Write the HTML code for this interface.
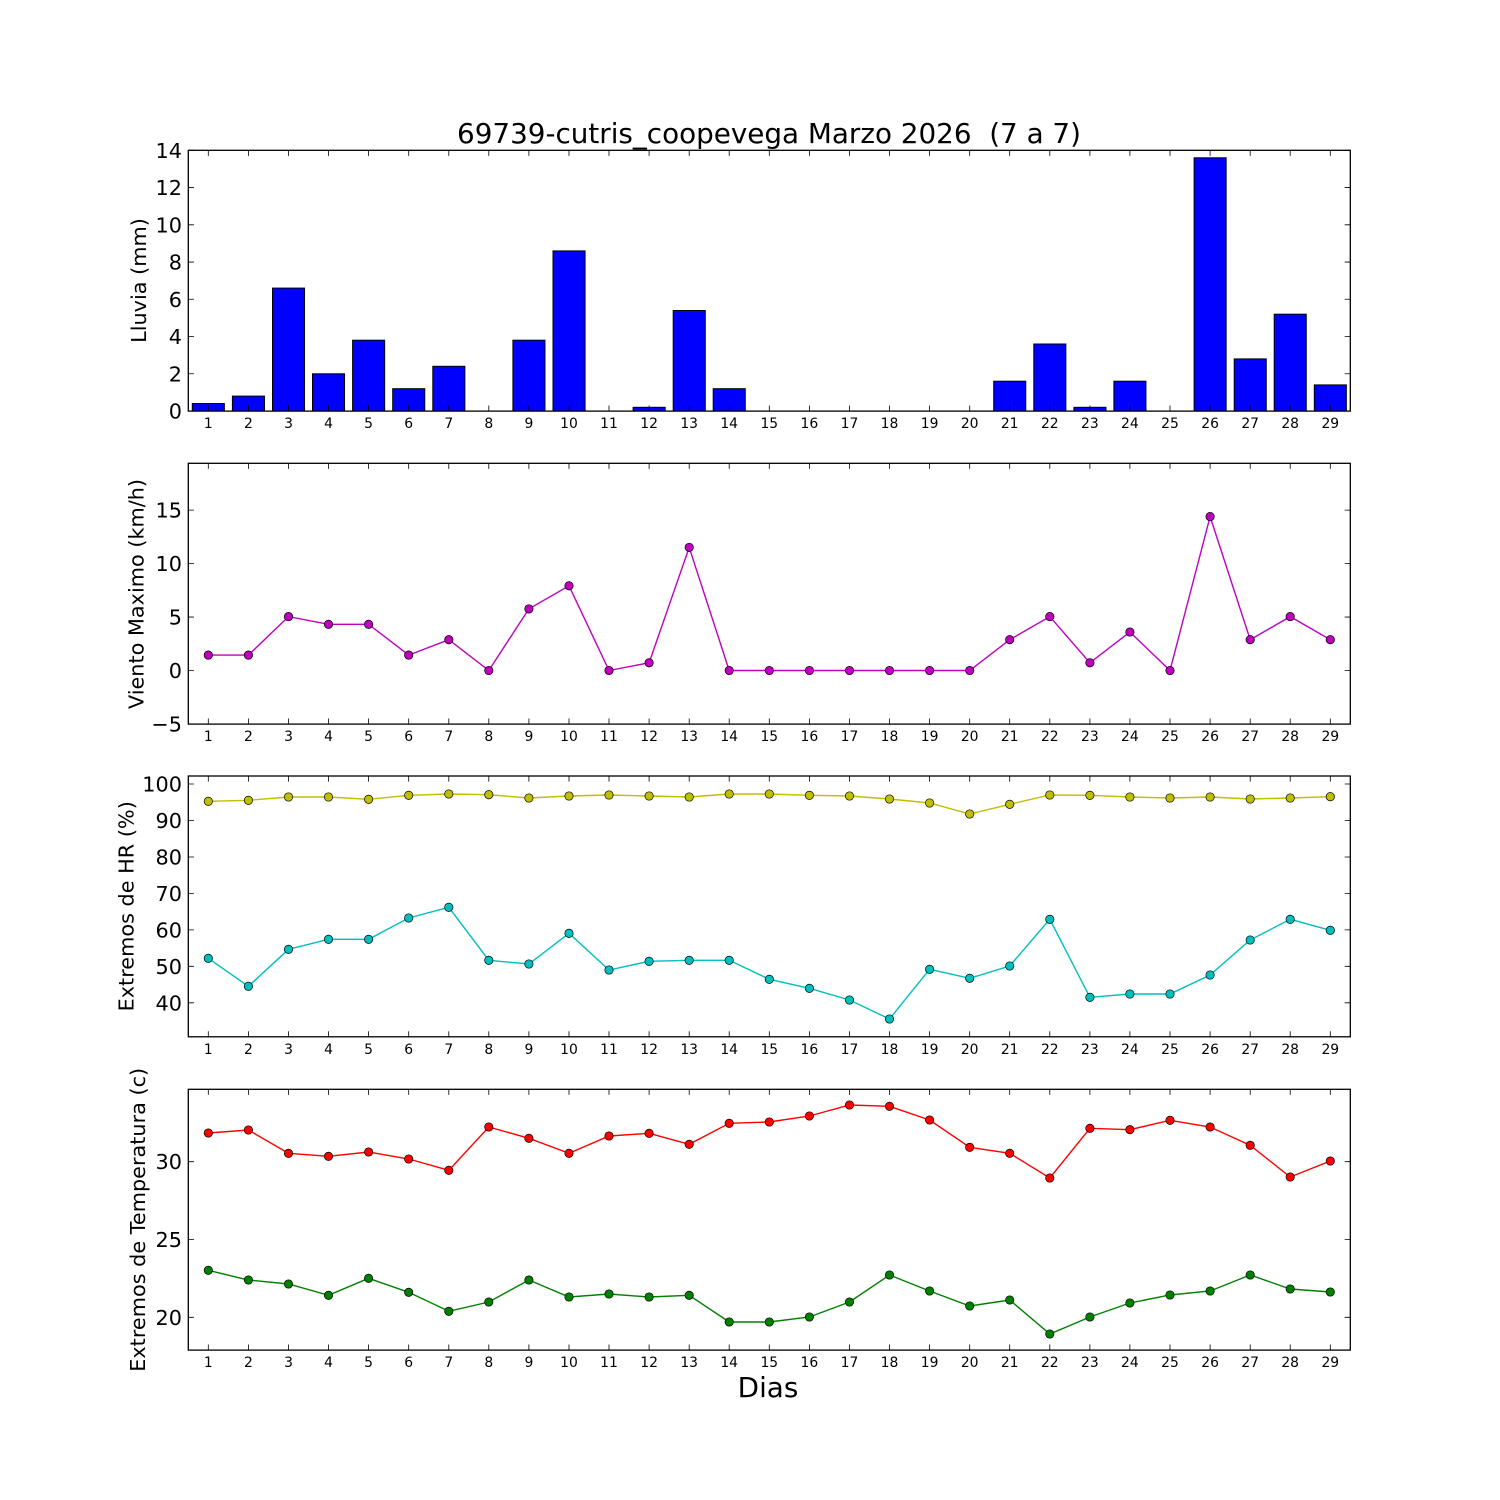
<!DOCTYPE html>
<html><head><meta charset="utf-8"><style>
html,body{margin:0;padding:0;background:#fff;}
svg{display:block;}
text{font-family:"DejaVu Sans","Liberation Sans",sans-serif;fill:#000;}
.xt{font-size:13.9px;text-anchor:middle;}
.yt{font-size:20.8px;text-anchor:end;}
.yl{font-size:20.8px;text-anchor:middle;}
</style></head><body>
<svg width="1500" height="1500" viewBox="0 0 1500 1500" xmlns="http://www.w3.org/2000/svg">
<defs>
<marker id="mM" viewBox="-6 -6 12 12" refX="0" refY="0" markerWidth="12" markerHeight="12" markerUnits="userSpaceOnUse" overflow="visible"><circle r="4.2" fill="#bf00bf" stroke="#000" stroke-width="0.7"/></marker>
<marker id="mY" viewBox="-6 -6 12 12" refX="0" refY="0" markerWidth="12" markerHeight="12" markerUnits="userSpaceOnUse" overflow="visible"><circle r="4.2" fill="#bfbf00" stroke="#000" stroke-width="0.7"/></marker>
<marker id="mC" viewBox="-6 -6 12 12" refX="0" refY="0" markerWidth="12" markerHeight="12" markerUnits="userSpaceOnUse" overflow="visible"><circle r="4.2" fill="#00bfbf" stroke="#000" stroke-width="0.7"/></marker>
<marker id="mR" viewBox="-6 -6 12 12" refX="0" refY="0" markerWidth="12" markerHeight="12" markerUnits="userSpaceOnUse" overflow="visible"><circle r="4.2" fill="#ff0000" stroke="#000" stroke-width="0.7"/></marker>
<marker id="mG" viewBox="-6 -6 12 12" refX="0" refY="0" markerWidth="12" markerHeight="12" markerUnits="userSpaceOnUse" overflow="visible"><circle r="4.2" fill="#008000" stroke="#000" stroke-width="0.7"/></marker>
<g id="xticks" stroke="#000" stroke-width="0.8" fill="none">
<path d="M208.3,0v5.6M248.4,0v5.6M288.5,0v5.6M328.5,0v5.6M368.6,0v5.6M408.7,0v5.6M448.8,0v5.6M488.8,0v5.6M528.9,0v5.6M569,0v5.6M609,0v5.6M649.1,0v5.6M689.2,0v5.6M729.2,0v5.6M769.3,0v5.6M809.4,0v5.6M849.5,0v5.6M889.5,0v5.6M929.6,0v5.6M969.7,0v5.6M1009.7,0v5.6M1049.8,0v5.6M1089.9,0v5.6M1129.9,0v5.6M1170,0v5.6M1210.1,0v5.6M1250.2,0v5.6M1290.2,0v5.6M1330.3,0v5.6"/>
<path d="M208.3,260.8v-5.6M248.4,260.8v-5.6M288.5,260.8v-5.6M328.5,260.8v-5.6M368.6,260.8v-5.6M408.7,260.8v-5.6M448.8,260.8v-5.6M488.8,260.8v-5.6M528.9,260.8v-5.6M569,260.8v-5.6M609,260.8v-5.6M649.1,260.8v-5.6M689.2,260.8v-5.6M729.2,260.8v-5.6M769.3,260.8v-5.6M809.4,260.8v-5.6M849.5,260.8v-5.6M889.5,260.8v-5.6M929.6,260.8v-5.6M969.7,260.8v-5.6M1009.7,260.8v-5.6M1049.8,260.8v-5.6M1089.9,260.8v-5.6M1129.9,260.8v-5.6M1170,260.8v-5.6M1210.1,260.8v-5.6M1250.2,260.8v-5.6M1290.2,260.8v-5.6M1330.3,260.8v-5.6"/>
</g>
</defs>

<!-- Title -->
<text x="769" y="143" xml:space="preserve" style="font-size:27.8px;text-anchor:middle;white-space:pre;">69739-cutris_coopevega Marzo 2026  (7 a 7)</text>

<!-- ========== Panel 1: Lluvia ========== -->
<g fill="#0000ff" stroke="#000" stroke-width="1">
<rect x="192.3" y="403.55" width="32.06" height="7.45"/>
<rect x="232.4" y="396.1" width="32.06" height="14.9"/>
<rect x="272.5" y="288.1" width="32.06" height="122.9"/>
<rect x="312.5" y="373.8" width="32.06" height="37.2"/>
<rect x="352.6" y="340.2" width="32.06" height="70.8"/>
<rect x="392.7" y="388.7" width="32.06" height="22.3"/>
<rect x="432.8" y="366.3" width="32.06" height="44.7"/>
<rect x="512.9" y="340.2" width="32.06" height="70.8"/>
<rect x="553.0" y="250.9" width="32.06" height="160.1"/>
<rect x="633.1" y="407.3" width="32.06" height="3.7"/>
<rect x="673.2" y="310.5" width="32.06" height="100.5"/>
<rect x="713.2" y="388.7" width="32.06" height="22.3"/>
<rect x="993.7" y="381.2" width="32.06" height="29.8"/>
<rect x="1033.8" y="344.0" width="32.06" height="67.0"/>
<rect x="1073.9" y="407.3" width="32.06" height="3.7"/>
<rect x="1113.9" y="381.2" width="32.06" height="29.8"/>
<rect x="1194.1" y="157.8" width="32.06" height="253.2"/>
<rect x="1234.2" y="358.9" width="32.06" height="52.1"/>
<rect x="1274.2" y="314.2" width="32.06" height="96.8"/>
<rect x="1314.3" y="384.9" width="32.06" height="26.1"/>
</g>
<use href="#xticks" transform="translate(0,150.3)"/>
<g stroke="#000" stroke-width="0.8">
<path d="M188.3,411h5.6M188.3,373.76h5.6M188.3,336.52h5.6M188.3,299.28h5.6M188.3,262.04h5.6M188.3,224.8h5.6M188.3,187.56h5.6M188.3,150.3h5.6"/>
<path d="M1350.3,411h-5.6M1350.3,373.76h-5.6M1350.3,336.52h-5.6M1350.3,299.28h-5.6M1350.3,262.04h-5.6M1350.3,224.8h-5.6M1350.3,187.56h-5.6M1350.3,150.3h-5.6"/>
</g>
<rect x="188.3" y="150.3" width="1162" height="260.8" fill="none" stroke="#000" stroke-width="1.3"/>
<g class="yt">
<text x="182" y="418.5">0</text>
<text x="182" y="381.3">2</text>
<text x="182" y="344">4</text>
<text x="182" y="306.8">6</text>
<text x="182" y="269.5">8</text>
<text x="182" y="232.3">10</text>
<text x="182" y="195">12</text>
<text x="182" y="157.8">14</text>
</g>
<text class="yl" transform="translate(146,280.5) rotate(-90)">Lluvia (mm)</text>
<g class="xt">
<text x="208.3" y="428">1</text><text x="248.4" y="428">2</text><text x="288.5" y="428">3</text><text x="328.5" y="428">4</text><text x="368.6" y="428">5</text><text x="408.7" y="428">6</text><text x="448.8" y="428">7</text><text x="488.8" y="428">8</text><text x="528.9" y="428">9</text><text x="569" y="428">10</text><text x="609" y="428">11</text><text x="649.1" y="428">12</text><text x="689.2" y="428">13</text><text x="729.2" y="428">14</text><text x="769.3" y="428">15</text><text x="809.4" y="428">16</text><text x="849.5" y="428">17</text><text x="889.5" y="428">18</text><text x="929.6" y="428">19</text><text x="969.7" y="428">20</text><text x="1009.7" y="428">21</text><text x="1049.8" y="428">22</text><text x="1089.9" y="428">23</text><text x="1129.9" y="428">24</text><text x="1170" y="428">25</text><text x="1210.1" y="428">26</text><text x="1250.2" y="428">27</text><text x="1290.2" y="428">28</text><text x="1330.3" y="428">29</text>
</g>

<!-- ========== Panel 2: Viento ========== -->
<polyline fill="none" stroke="#bf00bf" stroke-width="1.4" marker-start="url(#mM)" marker-mid="url(#mM)" marker-end="url(#mM)"
points="208.3,655.1 248.4,655.1 288.5,616.6 328.5,624.3 368.6,624.3 408.7,655.1 448.8,639.7 488.8,670.5 528.9,608.9 569,585.8 609,670.5 649.1,662.8 689.2,547.4 729.2,670.5 769.3,670.5 809.4,670.5 849.5,670.5 889.5,670.5 929.6,670.5 969.7,670.5 1009.7,639.7 1049.8,616.6 1089.9,662.8 1129.9,632.0 1170,670.5 1210.1,516.6 1250.2,639.7 1290.2,616.6 1330.3,639.7"/>
<use href="#xticks" transform="translate(0,463.3)"/>
<g stroke="#000" stroke-width="0.8">
<path d="M188.3,723.95h5.6M188.3,670.5h5.6M188.3,617.05h5.6M188.3,563.6h5.6M188.3,510.15h5.6"/>
<path d="M1350.3,723.95h-5.6M1350.3,670.5h-5.6M1350.3,617.05h-5.6M1350.3,563.6h-5.6M1350.3,510.15h-5.6"/>
</g>
<rect x="188.3" y="463.3" width="1162" height="260.8" fill="none" stroke="#000" stroke-width="1.3"/>
<g class="yt">
<text x="182" y="731.4">−5</text>
<text x="182" y="678">0</text>
<text x="182" y="624.5">5</text>
<text x="182" y="571.1">10</text>
<text x="182" y="517.6">15</text>
</g>
<text class="yl" transform="translate(143.5,594) rotate(-90)">Viento Maximo (km/h)</text>
<g class="xt">
<text x="208.3" y="741">1</text><text x="248.4" y="741">2</text><text x="288.5" y="741">3</text><text x="328.5" y="741">4</text><text x="368.6" y="741">5</text><text x="408.7" y="741">6</text><text x="448.8" y="741">7</text><text x="488.8" y="741">8</text><text x="528.9" y="741">9</text><text x="569" y="741">10</text><text x="609" y="741">11</text><text x="649.1" y="741">12</text><text x="689.2" y="741">13</text><text x="729.2" y="741">14</text><text x="769.3" y="741">15</text><text x="809.4" y="741">16</text><text x="849.5" y="741">17</text><text x="889.5" y="741">18</text><text x="929.6" y="741">19</text><text x="969.7" y="741">20</text><text x="1009.7" y="741">21</text><text x="1049.8" y="741">22</text><text x="1089.9" y="741">23</text><text x="1129.9" y="741">24</text><text x="1170" y="741">25</text><text x="1210.1" y="741">26</text><text x="1250.2" y="741">27</text><text x="1290.2" y="741">28</text><text x="1330.3" y="741">29</text>
</g>

<!-- ========== Panel 3: HR ========== -->
<polyline fill="none" stroke="#bfbf00" stroke-width="1.4" marker-start="url(#mY)" marker-mid="url(#mY)" marker-end="url(#mY)"
points="208.3,801.3 248.4,800.3 288.5,797 328.5,797 368.6,799.3 408.7,795.3 448.8,794 488.8,794.7 528.9,798 569,796 609,795 649.1,796 689.2,797 729.2,794 769.3,794 809.4,795.3 849.5,796 889.5,799 929.6,803 969.7,814 1009.7,804.3 1049.8,795 1089.9,795.3 1129.9,797 1170,798 1210.1,797 1250.2,799 1290.2,798 1330.3,796.7"/>
<polyline fill="none" stroke="#00bfbf" stroke-width="1.4" marker-start="url(#mC)" marker-mid="url(#mC)" marker-end="url(#mC)"
points="208.3,958.3 248.4,986.3 288.5,949.3 328.5,939.3 368.6,939.3 408.7,918 448.8,907.3 488.8,960.3 528.9,964 569,933.3 609,970 649.1,961.3 689.2,960.3 729.2,960.3 769.3,979.3 809.4,988.3 849.5,1000 889.5,1019 929.6,969.3 969.7,978.3 1009.7,966 1049.8,919.3 1089.9,997.3 1129.9,994 1170,994 1210.1,975 1250.2,940 1290.2,919.3 1330.3,930.3"/>
<use href="#xticks" transform="translate(0,776)"/>
<g stroke="#000" stroke-width="0.8">
<path d="M188.3,784h5.6M188.3,820.5h5.6M188.3,857h5.6M188.3,893.4h5.6M188.3,929.9h5.6M188.3,966.3h5.6M188.3,1002.8h5.6"/>
<path d="M1350.3,784h-5.6M1350.3,820.5h-5.6M1350.3,857h-5.6M1350.3,893.4h-5.6M1350.3,929.9h-5.6M1350.3,966.3h-5.6M1350.3,1002.8h-5.6"/>
</g>
<rect x="188.3" y="776" width="1162" height="260.8" fill="none" stroke="#000" stroke-width="1.3"/>
<g class="yt">
<text x="182" y="791.5">100</text>
<text x="182" y="828">90</text>
<text x="182" y="864.5">80</text>
<text x="182" y="900.9">70</text>
<text x="182" y="937.4">60</text>
<text x="182" y="973.8">50</text>
<text x="182" y="1010.3">40</text>
</g>
<text class="yl" transform="translate(133.7,906.3) rotate(-90)">Extremos de HR (%)</text>
<g class="xt">
<text x="208.3" y="1054">1</text><text x="248.4" y="1054">2</text><text x="288.5" y="1054">3</text><text x="328.5" y="1054">4</text><text x="368.6" y="1054">5</text><text x="408.7" y="1054">6</text><text x="448.8" y="1054">7</text><text x="488.8" y="1054">8</text><text x="528.9" y="1054">9</text><text x="569" y="1054">10</text><text x="609" y="1054">11</text><text x="649.1" y="1054">12</text><text x="689.2" y="1054">13</text><text x="729.2" y="1054">14</text><text x="769.3" y="1054">15</text><text x="809.4" y="1054">16</text><text x="849.5" y="1054">17</text><text x="889.5" y="1054">18</text><text x="929.6" y="1054">19</text><text x="969.7" y="1054">20</text><text x="1009.7" y="1054">21</text><text x="1049.8" y="1054">22</text><text x="1089.9" y="1054">23</text><text x="1129.9" y="1054">24</text><text x="1170" y="1054">25</text><text x="1210.1" y="1054">26</text><text x="1250.2" y="1054">27</text><text x="1290.2" y="1054">28</text><text x="1330.3" y="1054">29</text>
</g>

<!-- ========== Panel 4: Temperatura ========== -->
<polyline fill="none" stroke="#ff0000" stroke-width="1.4" marker-start="url(#mR)" marker-mid="url(#mR)" marker-end="url(#mR)"
points="208.3,1133 248.4,1130 288.5,1153.3 328.5,1156.3 368.6,1152 408.7,1159 448.8,1170.3 488.8,1127 528.9,1138.3 569,1153.3 609,1136 649.1,1133.3 689.2,1144.3 729.2,1123.3 769.3,1122 809.4,1116 849.5,1105 889.5,1106.3 929.6,1120 969.7,1147.3 1009.7,1153.3 1049.8,1178 1089.9,1128.3 1129.9,1129.7 1170,1120.3 1210.1,1127 1250.2,1145.3 1290.2,1177 1330.3,1161"/>
<polyline fill="none" stroke="#008000" stroke-width="1.4" marker-start="url(#mG)" marker-mid="url(#mG)" marker-end="url(#mG)"
points="208.3,1270.3 248.4,1280 288.5,1284 328.5,1295.3 368.6,1278.3 408.7,1292.3 448.8,1311.3 488.8,1302 528.9,1280 569,1297 609,1294 649.1,1297 689.2,1295.3 729.2,1322 769.3,1322 809.4,1317 849.5,1302 889.5,1275 929.6,1291 969.7,1306 1009.7,1300 1049.8,1334 1089.9,1317 1129.9,1303 1170,1295 1210.1,1291 1250.2,1275 1290.2,1289 1330.3,1292"/>
<use href="#xticks" transform="translate(0,1089.3)"/>
<g stroke="#000" stroke-width="0.8">
<path d="M188.3,1161.7h5.6M188.3,1239.5h5.6M188.3,1317.3h5.6"/>
<path d="M1350.3,1161.7h-5.6M1350.3,1239.5h-5.6M1350.3,1317.3h-5.6"/>
</g>
<rect x="188.3" y="1089.3" width="1162" height="260.8" fill="none" stroke="#000" stroke-width="1.3"/>
<g class="yt">
<text x="182" y="1169.2">30</text>
<text x="182" y="1247">25</text>
<text x="182" y="1324.8">20</text>
</g>
<text class="yl" transform="translate(145,1219.8) rotate(-90)">Extremos de Temperatura (c)</text>
<g class="xt">
<text x="208.3" y="1367">1</text><text x="248.4" y="1367">2</text><text x="288.5" y="1367">3</text><text x="328.5" y="1367">4</text><text x="368.6" y="1367">5</text><text x="408.7" y="1367">6</text><text x="448.8" y="1367">7</text><text x="488.8" y="1367">8</text><text x="528.9" y="1367">9</text><text x="569" y="1367">10</text><text x="609" y="1367">11</text><text x="649.1" y="1367">12</text><text x="689.2" y="1367">13</text><text x="729.2" y="1367">14</text><text x="769.3" y="1367">15</text><text x="809.4" y="1367">16</text><text x="849.5" y="1367">17</text><text x="889.5" y="1367">18</text><text x="929.6" y="1367">19</text><text x="969.7" y="1367">20</text><text x="1009.7" y="1367">21</text><text x="1049.8" y="1367">22</text><text x="1089.9" y="1367">23</text><text x="1129.9" y="1367">24</text><text x="1170" y="1367">25</text><text x="1210.1" y="1367">26</text><text x="1250.2" y="1367">27</text><text x="1290.2" y="1367">28</text><text x="1330.3" y="1367">29</text>
</g>
<text x="768" y="1397" style="font-size:27.8px;text-anchor:middle;">Dias</text>
</svg>
</body></html>
